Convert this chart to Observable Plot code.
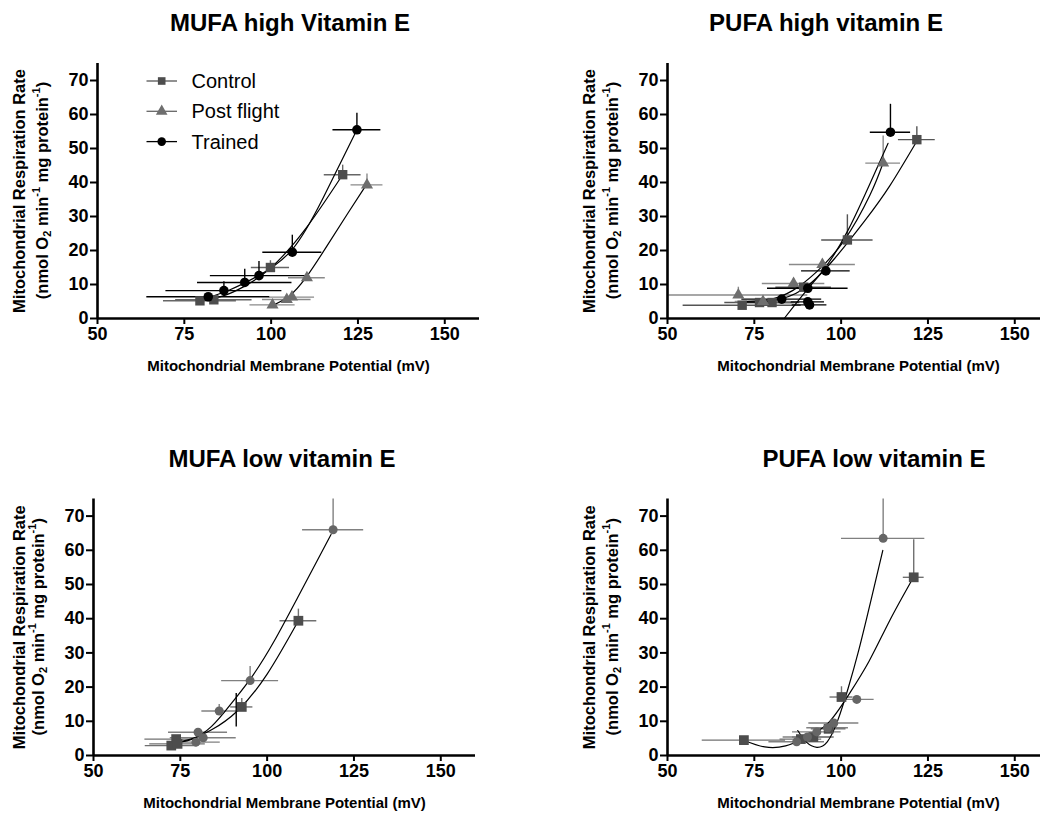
<!DOCTYPE html>
<html><head><meta charset="utf-8">
<script src="https://cdn.jsdelivr.net/npm/d3@7"></script>
<script src="https://cdn.jsdelivr.net/npm/@observablehq/plot@0.6"></script>
<style>
body{margin:0;width:1040px;height:815px;overflow:hidden;background:#fff;font-family:"Liberation Sans",Arial,sans-serif;position:relative}
.panel{position:absolute;width:520px}
.panel svg{max-width:none !important}
.title{position:absolute;width:400px;text-align:center;font-weight:bold;font-size:24px;line-height:24px;color:#000;white-space:nowrap}
</style></head><body>
<script>
// ---------- Data ----------
const seriesNames = ["Control", "Post flight", "Trained"];
const panelTitles = ["MUFA high Vitamin E", "PUFA high vitamin E", "MUFA low vitamin E", "PUFA low vitamin E"];
const xLabel = "Mitochondrial Membrane Potential (mV)";
const xTicks = [50, 75, 100, 125, 150];
const yTicks = [0, 10, 20, 30, 40, 50, 60, 70];

// Panel 1: MUFA high Vitamin E
const p1ControlX = [79.5, 83.5, 99.8, 120.6];
const p1ControlY = [5.2, 5.5, 15.0, 42.3];
const p1ControlXe = [10.5, 11, 5.5, 5.3];
const p1ControlYe = [1.0, 1.0, 2.0, 2.8];
const p1PostX = [100.4, 104.5, 106.0, 110.3, 127.6];
const p1PostY = [4.0, 5.6, 6.3, 12.0, 39.3];
const p1PostXe = [6.5, 7, 6.5, 5.3, 4.6];
const p1PostYe = [1.0, 1.2, 1.5, 1.2, 3.2];
const p1TrainedX = [81.9, 86.4, 92.4, 96.5, 106.1, 124.7];
const p1TrainedY = [6.4, 8.2, 10.6, 12.6, 19.5, 55.5];
const p1TrainedXe = [17.7, 16.7, 13.6, 14, 8.5, 6.9];
const p1TrainedYe = [0.5, 2.6, 3.9, 4.2, 5.0, 4.9];
const p1FitControlX = [79.5, 86, 92, 100, 110, 120.6];
const p1FitControlY = [5.3, 6.6, 9.3, 15.0, 26.5, 42.3];
const p1FitPostX = [100.4, 105, 110, 116, 122, 127.4];
const p1FitPostY = [3.9, 6.4, 12.0, 21.2, 30.8, 39.3];
const p1FitTrainedX = [81.9, 88, 96, 106, 115, 124.7];
const p1FitTrainedY = [6.2, 8.4, 12.4, 20.2, 35.5, 55.5];

// Panel 2: PUFA high vitamin E
const p2ControlX = [71.5, 76.5, 80.1, 89.2, 101.8, 121.8];
const p2ControlY = [3.9, 4.7, 4.7, 9.2, 23.1, 52.6];
const p2ControlXe = [17, 10, 8, 8, 7.4, 5.3];
const p2ControlYe = [0.8, 0.8, 0.8, 1.2, 7.4, 3.8];
const p2PostX = [70.4, 77.5, 86.3, 94.6, 112.1];
const p2PostY = [6.9, 5.0, 10.3, 15.9, 45.7];
const p2PostXe = [20, 8, 9, 9.5, 5];
const p2PostYe = [2.3, 0.8, 1.5, 1.5, 8.0];
const p2TrainedX = [82.9, 90.4, 90.4, 90.9, 95.6, 114.2];
const p2TrainedY = [5.7, 8.9, 4.9, 4.0, 14.0, 54.8];
const p2TrainedXe = [11.5, 11.6, 4.8, 5, 7, 5.8];
const p2TrainedYe = [0.5, 0.8, 0.5, 0.5, 1.0, 8.2];
const p2FitControlX = [71, 80, 89, 98, 107, 114, 122];
const p2FitControlY = [4.8, 5.2, 8.6, 17.5, 29.0, 39.0, 52.5];
const p2FitPostX = [71, 79, 86, 93, 100.9, 108.3, 112];
const p2FitPostY = [5.0, 5.5, 8.2, 13.8, 23.0, 36.3, 45.5];
const p2FitTrainedX = [83.6, 90, 96, 102, 108, 113.5];
const p2FitTrainedY = [0, 8.2, 15.8, 26.0, 39.0, 51.5];

// Panel 3: MUFA low vitamin E
const p3SquareX = [72.4, 73.8, 74.2, 92.7, 109.0];
const p3SquareY = [2.9, 4.8, 3.4, 14.2, 39.4];
const p3SquareXe = [7.5, 9, 8, 3.2, 5.3];
const p3SquareYe = [0.5, 0.8, 0.5, 2.5, 3.4];
const p3CircleX = [79.5, 80.1, 81.6, 86.2, 95.1, 119.0];
const p3CircleY = [3.9, 6.8, 5.2, 13.0, 21.9, 66.0];
const p3CircleXe = [7, 8.5, 9.5, 5, 8.2, 8.8];
const p3CircleYe = [0.5, 0.8, 0.8, 1.9, 4.1, 9.0];
const p3StrayBarX = [91.1];
const p3StrayBarLo = [8.3];
const p3StrayBarHi = [18.1];
const p3FitCircleX = [72.5, 78, 84, 90, 96, 102, 108.8, 118.4];
const p3FitCircleY = [3.6, 4.6, 8.5, 15.6, 23.6, 33.4, 46.2, 64.6];
const p3FitSquareX = [72.5, 78, 84, 91.5, 100, 109];
const p3FitSquareY = [3.6, 4.8, 7.5, 13.1, 23.8, 39.4];

// Panel 4: PUFA low vitamin E
const p4SquareX = [72.0, 88.4, 92.0, 96.4, 100.1, 120.9];
const p4SquareY = [4.5, 4.8, 5.4, 7.8, 17.1, 52.1];
const p4SquareXe = [12, 6, 6, 5, 3.3, 3];
const p4SquareYe = [0.5, 0.5, 0.8, 1.0, 3.0, 11.0];
const p4CircleX = [87.2, 90.3, 93.0, 96.1, 97.9, 104.5, 112.1];
const p4CircleY = [4.0, 5.4, 6.9, 8.1, 9.5, 16.4, 63.5];
const p4CircleXe = [8, 7, 7, 6, 7.2, 5, 12];
const p4CircleYe = [0.5, 0.5, 0.8, 0.8, 1.0, 1.0, 11.5];
const p4FitCircleX = [87.5, 90, 93, 96, 99, 102, 105, 108.5, 112];
const p4FitCircleY = [7.3, 3.9, 2.4, 4.0, 10.2, 19.6, 30.5, 45.0, 60.0];
const p4FitSquareX = [72.1, 78, 84, 90, 96.1, 102, 108, 114, 120.6];
const p4FitSquareY = [4.4, 2.5, 2.8, 5.3, 9.3, 17.5, 27.5, 39.5, 51.7];

// ---------- Helpers ----------
const FONT = "Liberation Sans, Arial, Helvetica, sans-serif";
const rows = (xs, ys, xe, ye) => xs.map((x, i) => ({x, y: ys[i], xe: xe[i], ye: ye[i]}));
const pts = (xs, ys) => xs.map((x, i) => ({x, y: ys[i]}));

const C_SQ = "#4d4d4d", C_TRI = "#6e6e6e", C_CIR = "#000000", C_CIR2 = "#666666";

function makePanel(cfg) {
  const marks = [];
  for (const s of cfg.series) {
    marks.push(Plot.ruleY(s.data, {y: "y", x1: d => d.x - d.xe, x2: d => d.x + d.xe, stroke: s.bar, strokeWidth: 1.4}));
    marks.push(Plot.ruleX(s.data, {x: "x", y1: "y", y2: d => d.y + d.ye, stroke: s.bar, strokeWidth: 1.4}));
  }
  if (cfg.extra) marks.push(...cfg.extra);
  for (const f of cfg.fits) {
    marks.push(Plot.line(f, {x: "x", y: "y", curve: "natural", stroke: "#000", strokeWidth: 1.2}));
  }
  for (const s of cfg.series) {
    marks.push(Plot.dot(s.data, {x: "x", y: "y", symbol: s.symbol, r: s.r, fill: s.fill, stroke: "none"}));
  }
  marks.push(
    Plot.ruleX([50], {stroke: "#000", strokeWidth: 2.6}),
    Plot.ruleY([0], {stroke: "#000", strokeWidth: 2.6}),
    Plot.axisX({ticks: xTicks, tickSize: 6, tickPadding: 3, strokeWidth: 2, stroke: "#000", fill: "#000",
      fontSize: 18, fontWeight: "bold", label: null}),
    Plot.axisY({ticks: yTicks, tickSize: 7, tickPadding: 2, strokeWidth: 2, stroke: "#000", fill: "#000",
      fontSize: 18, fontWeight: "bold", label: null}),
    Plot.text([xLabel], {frameAnchor: "bottom", lineAnchor: "middle", dy: 48, fontSize: 15, fontWeight: "bold", fill: "#000"}),
    Plot.text(["Mitochondrial Respiration Rate"], {frameAnchor: "left", textAnchor: "middle", lineAnchor: "middle",
      rotate: -90, dx: -(cfg.marginLeft - 19), fontSize: 16.5, fontWeight: "bold", fill: "#000"})
  );
  const svg = Plot.plot({
    width: cfg.width, height: cfg.height,
    marginLeft: cfg.marginLeft, marginRight: cfg.marginRight, marginTop: cfg.marginTop, marginBottom: cfg.marginBottom,
    x: {domain: [50, 160]}, y: {domain: [0, 75]},
    style: {fontFamily: FONT, background: "transparent", overflow: "visible", color: "#000", maxWidth: "none"},
    marks
  });
  svg.style.maxWidth = "none";
  const cy = cfg.marginTop + (cfg.height - cfg.marginTop - cfg.marginBottom) / 2;
  const t = d3.select(svg).append("text")
    .attr("transform", `translate(${cfg.marginLeft - 55},${cy}) rotate(-90)`)
    .attr("text-anchor", "middle").attr("dominant-baseline", "central")
    .attr("font-family", FONT).attr("font-size", 16.5).attr("font-weight", "bold").attr("fill", "#000");
  const parts = [["(nmol O", 0], ["2", 1], [" min", 0], ["-1", -1], [" mg protein", 0], ["-1", -1], [")", 0]];
  let prev = 0;
  for (const [txt, kind] of parts) {
    const shift = kind === 1 ? 5 : kind === -1 ? -6 : 0;
    const ts = t.append("tspan").text(txt).attr("dy", shift - prev);
    if (kind !== 0) ts.attr("font-size", 11);
    prev = shift;
  }
  const div = document.createElement("div");
  div.className = "panel";
  div.style.left = cfg.left + "px";
  div.style.top = cfg.top + "px";
  div.appendChild(svg);
  document.body.appendChild(div);
  const tt = document.createElement("div");
  tt.className = "title";
  tt.textContent = cfg.title;
  tt.style.left = (cfg.titleCenter - 200) + "px";
  tt.style.top = cfg.titleTop + "px";
  document.body.appendChild(tt);
  return svg;
}

const topCfg = {width: 520, height: 385, marginLeft: 97, marginRight: 41, marginTop: 63, marginBottom: 67};
const botCfg = {width: 520, height: 385, marginLeft: 93, marginRight: 45, marginTop: 62.5, marginBottom: 66};

const svg1 = makePanel({...topCfg, left: 0, top: 0, title: panelTitles[0], titleCenter: 290, titleTop: 11,
  series: [
    {data: rows(p1ControlX, p1ControlY, p1ControlXe, p1ControlYe), symbol: "square", r: 5.3, fill: C_SQ, bar: "#666"},
    {data: rows(p1PostX, p1PostY, p1PostXe, p1PostYe), symbol: "triangle", r: 4.5, fill: C_TRI, bar: "#8a8a8a"},
    {data: rows(p1TrainedX, p1TrainedY, p1TrainedXe, p1TrainedYe), symbol: "circle", r: 4.8, fill: C_CIR, bar: "#000"}
  ],
  fits: [pts(p1FitControlX, p1FitControlY), pts(p1FitPostX, p1FitPostY), pts(p1FitTrainedX, p1FitTrainedY)]
});

makePanel({...topCfg, left: 570, top: 0, title: panelTitles[1], titleCenter: 826, titleTop: 11,
  series: [
    {data: rows(p2ControlX, p2ControlY, p2ControlXe, p2ControlYe), symbol: "square", r: 5.3, fill: C_SQ, bar: "#555"},
    {data: rows(p2PostX, p2PostY, p2PostXe, p2PostYe), symbol: "triangle", r: 4.5, fill: C_TRI, bar: "#8a8a8a"},
    {data: rows(p2TrainedX, p2TrainedY, p2TrainedXe, p2TrainedYe), symbol: "circle", r: 4.8, fill: C_CIR, bar: "#000"}
  ],
  fits: [pts(p2FitControlX, p2FitControlY), pts(p2FitPostX, p2FitPostY), pts(p2FitTrainedX, p2FitTrainedY)]
});

makePanel({...botCfg, left: 0, top: 436, title: panelTitles[2], titleCenter: 282, titleTop: 447,
  series: [
    {data: rows(p3SquareX, p3SquareY, p3SquareXe, p3SquareYe), symbol: "square", r: 5.5, fill: C_SQ, bar: "#707070"},
    {data: rows(p3CircleX, p3CircleY, p3CircleXe, p3CircleYe), symbol: "circle", r: 4.5, fill: C_CIR2, bar: "#808080"}
  ],
  extra: [Plot.ruleX(p3StrayBarX.map((x, i) => ({x, lo: p3StrayBarLo[i], hi: p3StrayBarHi[i]})), {x: "x", y1: "lo", y2: "hi", stroke: "#000", strokeWidth: 1.4})],
  fits: [pts(p3FitCircleX, p3FitCircleY), pts(p3FitSquareX, p3FitSquareY)]
});

makePanel({...botCfg, marginLeft: 97, marginRight: 41, left: 570, top: 436, title: panelTitles[3], titleCenter: 874, titleTop: 447,
  series: [
    {data: rows(p4SquareX, p4SquareY, p4SquareXe, p4SquareYe), symbol: "square", r: 5.5, fill: C_SQ, bar: "#707070"},
    {data: rows(p4CircleX, p4CircleY, p4CircleXe, p4CircleYe), symbol: "circle", r: 4.5, fill: C_CIR2, bar: "#808080"}
  ],
  fits: [pts(p4FitCircleX, p4FitCircleY), pts(p4FitSquareX, p4FitSquareY)]
});

const legendItems = [
  {label: seriesNames[0], sym: d3.symbolSquare, fill: C_SQ, line: "#555"},
  {label: seriesNames[1], sym: d3.symbolTriangle, fill: C_TRI, line: "#666"},
  {label: seriesNames[2], sym: d3.symbolCircle, fill: C_CIR, line: "#000"}
];
const lg = d3.select(svg1).append("g").attr("font-family", FONT).attr("text-anchor", "start");
legendItems.forEach((it, i) => {
  const y = 81 + i * 30.3;
  lg.append("line").attr("x1", 146.5).attr("x2", 177).attr("y1", y).attr("y2", y).attr("stroke", it.line).attr("stroke-width", 1.3);
  lg.append("path").attr("d", d3.symbol(it.sym, Math.PI * 4.3 * 4.3)()).attr("transform", `translate(161.7,${y})`).attr("fill", it.fill);
  lg.append("text").attr("x", 191.5).attr("y", y).attr("dy", "0.35em").attr("text-anchor", "start").attr("font-size", 20).attr("fill", "#000").text(it.label);
});
</script>
</body></html>
